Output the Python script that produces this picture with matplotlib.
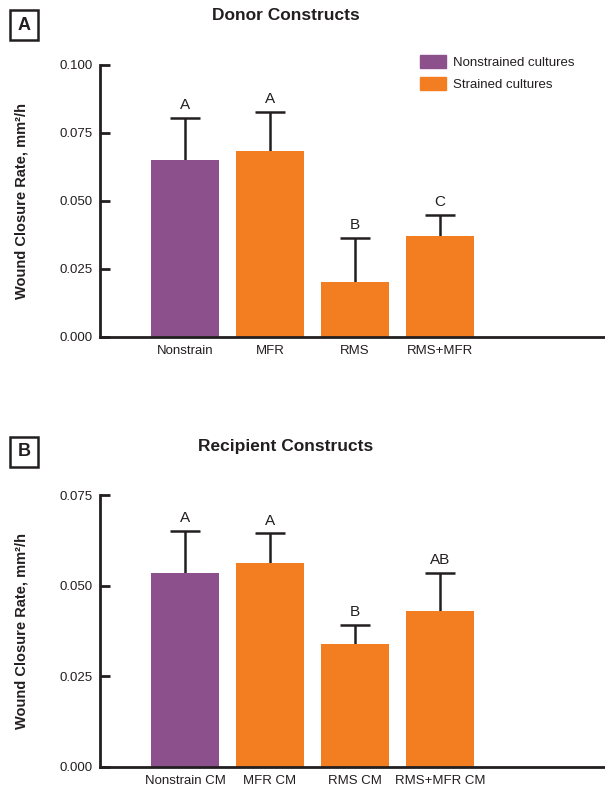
import matplotlib
matplotlib.use("Agg")
import matplotlib.pyplot as plt
from matplotlib.patches import Rectangle, Patch

plt.rcParams['font.family'] = ['Liberation Sans', 'DejaVu Sans']

PURPLE = "#8C508C"
ORANGE = "#F37E21"
INK = "#231F20"

# panel A: donor constructs
donor_labels = ["Nonstrain", "MFR", "RMS", "RMS+MFR"]
donor_means = [0.0650, 0.0683, 0.0201, 0.0370]
donor_err = [0.0154, 0.0143, 0.0162, 0.0077]
donor_letters = ["A", "A", "B", "C"]
donor_ticks = [0.000, 0.025, 0.050, 0.075, 0.100]

# panel B: recipient constructs (conditioned medium)
recip_labels = ["Nonstrain CM", "MFR CM", "RMS CM", "RMS+MFR CM"]
recip_means = [0.0535, 0.0562, 0.0339, 0.0430]
recip_err = [0.0116, 0.0082, 0.0052, 0.0106]
recip_letters = ["A", "A", "B", "AB"]
recip_ticks = [0.000, 0.025, 0.050, 0.075]

bar_colors = [PURPLE, ORANGE, ORANGE, ORANGE]

W, H = 605, 793
fig = plt.figure(figsize=(W / 100, H / 100), dpi=100)


def px(x, y):
    return x / W, 1 - y / H


def panel(bottom_px, top_px, labels, means, errs, letters, ticks, title, tag, title_y, box_y):
    l, b = px(100, bottom_px)
    _, t = px(100, top_px)
    ax = fig.add_axes([l, b, 1 - l, t - b])
    xs = list(range(len(labels)))
    ax.bar(xs, means, width=0.79, color=bar_colors, zorder=2)
    # upper-only error bars: stem from the bar top plus a cap
    tops = [m + e for m, e in zip(means, errs)]
    ax.vlines(xs, means, tops, colors=INK, lw=1.8, zorder=1)
    ax.hlines(tops, [x - 0.18 for x in xs], [x + 0.18 for x in xs], colors=INK, lw=1.8, zorder=1)
    for x, top, s in zip(xs, tops, letters):
        ax.annotate(s, (x, top), xytext=(0, 4), textcoords="offset points",
                    ha="center", va="bottom", fontsize=11, color=INK)
    ax.set_xlim(-1.0, 4.94)
    ax.set_ylim(ticks[0], ticks[-1])
    ax.set_yticks(ticks)
    ax.set_yticklabels([f"{v:.3f}" for v in ticks])
    ax.set_xticks(xs)
    ax.set_xticklabels(labels)
    for side in ("top", "right"):
        ax.spines[side].set_visible(False)
    for side in ("left", "bottom"):
        ax.spines[side].set_linewidth(2)
        ax.spines[side].set_color(INK)
    ax.tick_params(axis="y", direction="in", length=7.5, width=2, color=INK,
                   labelsize=9.5, pad=5.5, labelcolor=INK)
    ax.tick_params(axis="x", length=0, labelsize=9.5, pad=6, labelcolor=INK)
    ax.patch.set_visible(False)

    cy = 1 - (bottom_px + top_px) / 2 / H
    fig.text(22 / W, cy, "Wound Closure Rate, mm\u00b2/h", rotation=90,
             ha="center", va="center", fontsize=10.5, fontweight="bold", color=INK)
    fig.text(286 / W, 1 - title_y / H, title, ha="center", va="center",
             fontsize=12.5, fontweight="bold", color=INK)
    bx, by = px(10, box_y + 30)
    fig.patches.append(Rectangle((bx, by), 28 / W, 30 / H, transform=fig.transFigure,
                                 fill=False, lw=1.8, edgecolor=INK))
    fig.text(24 / W, 1 - (box_y + 15) / H, tag, ha="center", va="center",
             fontsize=13, fontweight="bold", color=INK)
    return ax


ax_a = panel(336.7, 64.5, donor_labels, donor_means, donor_err, donor_letters,
             donor_ticks, "Donor Constructs", "A", 15, 10)
ax_b = panel(766.7, 495, recip_labels, recip_means, recip_err, recip_letters,
             recip_ticks, "Recipient Constructs", "B", 447, 437)

handles = [Patch(color=PURPLE, label="Nonstrained cultures"),
           Patch(color=ORANGE, label="Strained cultures")]
fig.legend(handles=handles, loc="upper left", bbox_to_anchor=px(420, 55),
           frameon=False, fontsize=9.5, handlelength=2.0, handleheight=1.15,
           labelspacing=0.6, handletextpad=0.5, borderpad=0, borderaxespad=0,
           labelcolor=INK)

fig.savefig("out.png", dpi=100)
